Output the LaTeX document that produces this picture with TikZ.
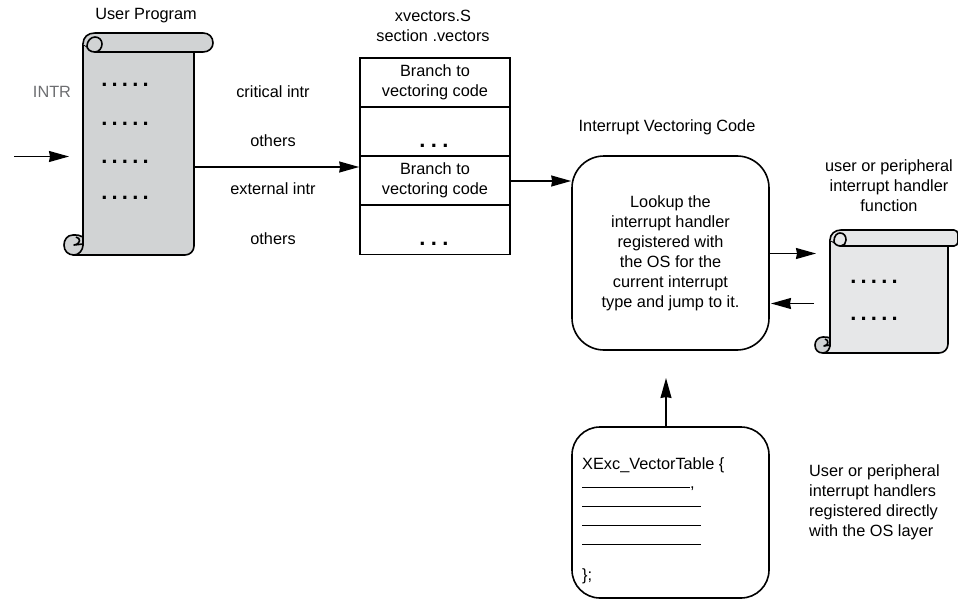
\documentclass[tikz,border=0pt]{standalone}
\usepackage{fontspec}
\setmainfont{Liberation Sans}
\usetikzlibrary{arrows.meta}
\definecolor{scrolldark}{HTML}{D1D3D4}
\definecolor{scrolllight}{HTML}{E6E7E8}
\definecolor{intrgray}{HTML}{6D6E71}
\newcommand{\fivedots}{.\kern4.2pt.\kern4.2pt.\kern4.2pt.\kern4.2pt.}
\newcommand{\threedots}{.\kern5.4pt.\kern5.4pt.}
\tikzset{
    every node/.style={font=\fontsize{16.3}{20}\selectfont, inner sep=0pt, align=center},
    flow/.style={-{Stealth[length=20pt,width=11pt,inset=1pt]}, line width=1.4pt},
    outline/.style={line width=1.6pt, line join=round},
    cell/.style={draw, line width=1.6pt, minimum width=150pt, minimum height=49pt},
    roundbox/.style={draw, line width=1.6pt, rounded corners=32pt, minimum width=197pt},
    dotrow/.style={anchor=base, font=\fontsize{22}{24}\bfseries\selectfont},
}
\begin{document}
\begin{tikzpicture}[x=1pt, y=-1pt]
    \useasboundingbox (0,0) rectangle (958,599);

    % User program scroll
    \draw[outline, fill=scrolldark] (83,44) -- (83,245) -- (73,255) -- (185,255) .. controls (190,255) and (194,251) .. (194,246) -- (194,52) -- (95,52) -- cycle;
    \draw[outline, fill=scrolldark] (83,44) .. controls (83,37) and (88,33) .. (95,33) -- (203,33) .. controls (209,33) and (213,37) .. (213,43) .. controls (213,48) and (209,52) .. (203,52) -- (95,52) .. controls (90,52) and (87,49) .. (87,46) .. controls (87,41) and (91,37) .. (95,37) .. controls (99,37) and (102,40) .. (102,44) .. controls (102,48) and (99,52) .. (95,52);
    \draw[outline, fill=scrolldark] (83,237) .. controls (80,235) and (77,235) .. (73,235) .. controls (67,235) and (64,240) .. (64,245) .. controls (64,251) and (68,255) .. (74,255) .. controls (79,255) and (83,250) .. (83,245) -- cycle;
    \draw[outline] (76,237) .. controls (81,238) and (81,244) .. (74,245) -- (83,244);

    % Handler function scroll
    \draw[outline, fill=scrolllight] (830,240) -- (830,346) -- (823,353) -- (939,353) .. controls (944,353) and (948,349) .. (948,344) -- (948,246) -- (840,246) -- cycle;
    \draw[outline, fill=scrolllight] (830,240) .. controls (830,234) and (835,230) .. (841,230) -- (954,230) .. controls (956,230) and (958,232) .. (958,234) -- (958,242) .. controls (958,244) and (956,246) .. (954,246) -- (841,246) .. controls (837,246) and (834,244) .. (834,241) .. controls (834,236) and (837,233) .. (840,233) .. controls (844,233) and (846,236) .. (846,240) .. controls (846,243) and (844,246) .. (841,246);
    \draw[outline, fill=scrolldark] (830,338) .. controls (828,337) and (826,337) .. (823,337) .. controls (818,337) and (815,341) .. (815,345) .. controls (815,350) and (818,353) .. (823,353) .. controls (827,353) and (830,349) .. (830,345) -- cycle;
    \draw[outline] (825,339) .. controls (829,340) and (829,345) .. (824,346) -- (830,345);

    % Scroll dots
    \foreach \y [count=\i] in {87,125,163,199}
        \node[dotrow] (progdots\i) at (125,\y) {\fivedots};
    \foreach \y [count=\i] in {283,320}
        \node[dotrow] (funcdots\i) at (874,\y) {\fivedots};

    % Vector table
    \node[cell] (branchA) at (435,82.5) {Branch to\\vectoring code};
    \node[cell] (othersA) at (435,131.5) {};
    \node[cell] (branchB) at (435,180.5) {Branch to\\vectoring code};
    \node[cell] (othersB) at (435,230) {};
    \node[dotrow] (dotsA) at (434,147.5) {\threedots};
    \node[dotrow] (dotsB) at (434,245.5) {\threedots};

    % Rounded boxes
    \node[roundbox, minimum height=194pt] (vectoring) at (670.5,253) {Lookup the\\interrupt handler\\registered with\\the OS for the~\\current interrupt\\type and jump to it.};
    \node[roundbox, minimum height=171pt, rounded corners=28pt] (table) at (670.5,512.5) {};
    \node[anchor=north west, align=left, font=\fontsize{16.3}{19}\selectfont] (tabletext) at (582,457) {XExc\_VectorTable \{\\\rule{108pt}{0.7pt},\\\rule{119pt}{0.7pt}\\\rule{119pt}{0.7pt}\\\rule{119pt}{0.7pt}\\[16pt]\};};

    % Free ends of the arrows
    \coordinate (intrstart) at (14,156.5);
    \coordinate (intrend) at (69,156.5);
    \coordinate (progout) at (194,167);
    \coordinate (branchout) at (510,181);
    \coordinate (handlerin) at (816,253.5);
    \coordinate (handlerout) at (814,303.5);
    \coordinate (vectorout) at (770,253.5);
    \coordinate (vectorback) at (771,303.5);

    % Arrows
    \draw[flow] (intrstart) -- (intrend);
    \draw[flow] (progout) -- (progout -| branchB.west);
    \draw[flow] (branchout) -- (branchout -| vectoring.west);
    \draw[flow] (vectorout) -- (handlerin);
    \draw[flow] (handlerout) -- (vectorback);
    \draw[flow] (table.north -| 666,0) -- (666,378);

    % Labels
    \node (programlabel) at (146,16) {User Program};
    \node[text=intrgray] (intrlabel) at (52,91.5) {INTR};
    \node (criticallabel) at (273,92) {critical intr};
    \node (othersAlabel) at (273,141) {others};
    \node (externallabel) at (273,189) {external intr};
    \node (othersBlabel) at (273,239) {others};
    \node (vectorslabel) at (433,26) {xvectors.S\\section .vectors};
    \node (vectoringlabel) at (667,127) {Interrupt Vectoring Code};
    \node (handlerlabel) at (889,186) {user or peripheral\\interrupt handler\\function};
    \node[align=left, anchor=west] (registerlabel) at (809,502.5) {User or peripheral\\interrupt handlers\\registered directly\\with the OS layer};
\end{tikzpicture}
\end{document}
